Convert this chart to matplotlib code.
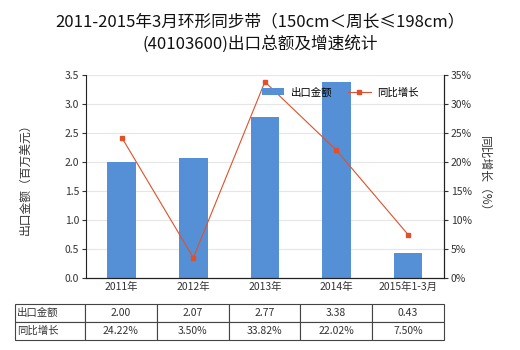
import matplotlib
matplotlib.use('Agg')
import matplotlib.pyplot as plt
from matplotlib.ticker import FuncFormatter

plt.rcParams['font.family'] = ['Noto Sans CJK SC', 'DejaVu Sans']

years = ['2011年', '2012年', '2013年', '2014年', '2015年1-3月']
export_value = [2.00, 2.07, 2.77, 3.38, 0.43]
growth_pct = [24.22, 3.50, 33.82, 22.02, 7.50]
value_labels = ['2.00', '2.07', '2.77', '3.38', '0.43']
growth_labels = ['24.22%', '3.50%', '33.82%', '22.02%', '7.50%']

BAR = '#5590d6'
LINE = '#e0502a'
TXT = '#333333'

fig = plt.figure(figsize=(5.2, 3.5), dpi=100)
ax = fig.add_axes([0.1654, 0.2057, 0.688, 0.58])
ax2 = ax.twinx()

x = list(range(len(years)))
bars = ax.bar(x, export_value, width=0.4, color=BAR, zorder=2, label='出口金额')
line, = ax2.plot(x, growth_pct, color=LINE, lw=0.8, marker='s', ms=3.5,
                 zorder=3, label='同比增长')

ax.set_xlim(-0.5, len(years) - 0.5)
ax.set_ylim(0, 3.5)
ax.set_yticks([i * 0.5 for i in range(8)])
ax.yaxis.set_major_formatter(FuncFormatter(lambda v, p: f'{v:.1f}'))
ax2.set_ylim(0, 35)
ax2.set_yticks(range(0, 36, 5))
ax2.yaxis.set_major_formatter(FuncFormatter(lambda v, p: f'{int(v)}%'))

ax.set_xticks(x)
ax.set_xticklabels(years, fontsize=7.5, color=TXT)
ax.tick_params(axis='x', length=0, pad=3)
ax.tick_params(axis='y', labelsize=7.5, length=3, colors=TXT, pad=2)
ax2.tick_params(axis='y', labelsize=7.5, length=3, colors=TXT, pad=2)

ax.grid(axis='y', color='#e6e6e6', lw=0.8, zorder=0)
ax.set_axisbelow(True)
for a in (ax, ax2):
    a.spines['top'].set_visible(False)
    a.spines['left'].set_color('#222222')
    a.spines['right'].set_color('#222222')
    a.spines['bottom'].set_color('#222222')
ax2.spines['left'].set_visible(False)

ax.set_ylabel('出口金额（百万美元）', fontsize=8.5, color=TXT, labelpad=24)
ax2.set_ylabel('同比增长（%）', fontsize=8.5, color=TXT, rotation=-90, labelpad=14)

ax2.legend([bars, line], ['出口金额', '同比增长'], ncol=2, frameon=False,
           fontsize=7.5, loc='center', bbox_to_anchor=(0.71, 0.915),
           handlelength=2.2, columnspacing=1.5, handletextpad=0.6)

fig.text(0.5, 0.937, '2011-2015年3月环形同步带（150cm＜周长≤198cm）',
         ha='center', va='center', fontsize=12, color='#111111')
fig.text(0.5, 0.874, '(40103600)出口总额及增速统计',
         ha='center', va='center', fontsize=12, color='#111111')

# data table under the chart
cells = [['出口金额'] + value_labels, ['同比增长'] + growth_labels]
tbl = ax.table(cellText=cells, cellLoc='center',
               colWidths=[70 / 429] + [71.8 / 429] * 5,
               bbox=[-0.198, -0.305, 1.198, 0.177])
tbl.auto_set_font_size(False)
tbl.set_fontsize(7.5)
for (r, c), cell in tbl.get_celld().items():
    cell.set_edgecolor('#444444')
    cell.set_linewidth(0.8)
    cell.get_text().set_color(TXT)
    if c == 0:
        cell.get_text().set_ha('left')
        cell._loc = 'left'
        cell.PAD = 0.03

fig.savefig('out.png', dpi=100)
